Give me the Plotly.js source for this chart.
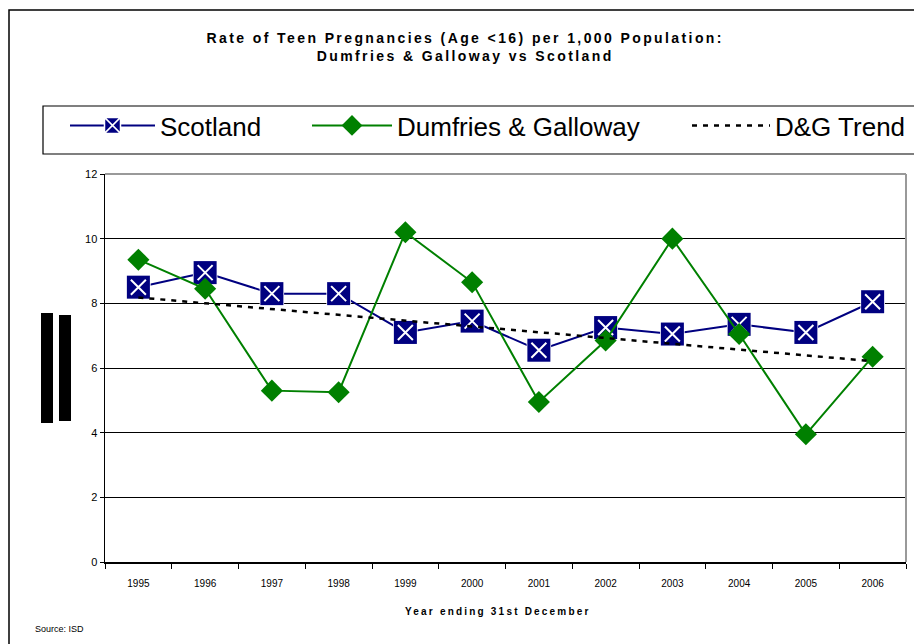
<!DOCTYPE html>
<html>
<head>
<meta charset="utf-8">
<script src="https://cdn.plot.ly/plotly-3.0.1.min.js"></script>
<style>
  html, body { margin: 0; padding: 0; background: #fff; }
  #chart { width: 914px; height: 644px; }
</style>
</head>
<body>
<div id="chart"></div>
<script>
// Teen pregnancy rates (age <16) per 1,000 population
const years = ['1995', '1996', '1997', '1998', '1999', '2000',
               '2001', '2002', '2003', '2004', '2005', '2006'];
const scotland = [8.5, 8.95, 8.3, 8.3, 7.1, 7.45, 6.55, 7.25, 7.05, 7.35, 7.1, 8.05];
const dumfriesGalloway = [9.35, 8.45, 5.3, 5.25, 10.2, 8.65, 4.95, 6.85, 10.0, 7.05, 3.95, 6.35];
const yTicks = [0, 2, 4, 6, 8, 10, 12];

// Least-squares linear trend through the D&G series
function linearTrend(values) {
  const n = values.length;
  const xm = (n - 1) / 2;
  const ym = values.reduce((a, b) => a + b, 0) / n;
  let sxy = 0, sxx = 0;
  values.forEach((v, i) => { sxy += (i - xm) * (v - ym); sxx += (i - xm) * (i - xm); });
  const slope = sxy / sxx;
  return values.map((_, i) => ym + slope * (i - xm));
}
const dgTrend = linearTrend(dumfriesGalloway);

const FONT = 'Liberation Sans, Arial, sans-serif';
const NAVY = '#000080';
const GREEN = '#008000';

const traces = [
  { // line for Scotland, also the legend entry
    x: years, y: scotland, name: 'Scotland', type: 'scatter', mode: 'lines+markers',
    legend: 'legend',
    line: { color: NAVY, width: 2 },
    marker: { symbol: 'square-x', size: 23, color: NAVY, line: { color: '#fff', width: 1.5 } }
  },
  { // solid navy squares
    x: years, y: scotland, type: 'scatter', mode: 'markers', showlegend: false, hoverinfo: 'skip',
    marker: { symbol: 'square', size: 23, color: NAVY, line: { width: 0 } }
  },
  { // white crosses inside the squares
    x: years, y: scotland, type: 'scatter', mode: 'markers', showlegend: false, hoverinfo: 'skip',
    marker: { symbol: 'x-thin-open', size: 15, color: '#fff', line: { color: '#fff', width: 2 } }
  },
  {
    x: years, y: dumfriesGalloway, name: 'Dumfries &amp; Galloway', type: 'scatter', mode: 'lines+markers',
    legend: 'legend2',
    line: { color: GREEN, width: 2 },
    marker: { symbol: 'diamond', size: 17, color: GREEN, line: { width: 0 } }
  },
  {
    x: years, y: dgTrend, name: 'D&amp;G Trend', type: 'scatter', mode: 'lines',
    legend: 'legend3',
    line: { color: '#000', width: 2.5, dash: '5px,6px' }
  }
];

// paper coordinate helpers (plot area spans 105..906 px horizontally, 174..562 px vertically)
const px = v => (v - 105) / 801;
const py = v => (562 - v) / 388;

function legendAt(left, symbolWidth) {
  return {
    orientation: 'h', xref: 'paper', yref: 'paper',
    x: px(left), y: py(102), xanchor: 'left', yanchor: 'top',
    font: { family: FONT, size: 26, color: '#000' },
    bgcolor: 'rgba(0,0,0,0)', borderwidth: 0,
    itemwidth: symbolWidth
  };
}

const layout = {
  width: 914, height: 644,
  margin: { l: 105, r: 8, t: 174, b: 82, autoexpand: false },
  paper_bgcolor: '#fff', plot_bgcolor: '#fff',
  font: { family: FONT, color: '#000' },
  title: {
    text: '<b><span style="letter-spacing:2.4px">Rate of Teen Pregnancies (Age &lt;16) per 1,000 Population:</span></b><br>' +
          '<b><span style="letter-spacing:2.4px">Dumfries &amp; Galloway vs Scotland</span></b>',
    font: { family: FONT, size: 14, color: '#000' },
    xref: 'container', x: 0.509, xanchor: 'center',
    yref: 'container', y: 1 - 43 / 644, yanchor: 'top'
  },
  xaxis: {
    type: 'category', categoryorder: 'array', categoryarray: years,
    range: [-0.5, 11.5],
    showline: true, linecolor: '#000', linewidth: 1.5,
    showgrid: false, zeroline: false,
    ticks: 'outside', tickson: 'boundaries', ticklen: 5, tickcolor: '#000', tickwidth: 1,
    ticklabelstandoff: 11,
    tickfont: { family: FONT, size: 10, color: '#000' },
    fixedrange: true
  },
  yaxis: {
    range: [0, 12], tickvals: yTicks, ticktext: yTicks.map(String),
    showline: true, linecolor: '#000', linewidth: 1.5,
    showgrid: true, gridcolor: '#000', gridwidth: 1,
    zeroline: false,
    ticks: 'outside', ticklen: 4, tickcolor: '#000', tickwidth: 1,
    tickfont: { family: FONT, size: 11, color: '#000' },
    fixedrange: true
  },
  showlegend: true,
  legend: legendAt(65, 85),
  legend2: legendAt(307, 80),
  legend3: legendAt(687, 78),
  shapes: [
    // outer chart border
    { type: 'rect', xref: 'paper', yref: 'paper', x0: px(9), x1: px(930), y0: py(660), y1: py(10),
      line: { color: '#000', width: 1.5 }, fillcolor: 'rgba(0,0,0,0)', layer: 'below' },
    // legend frame
    { type: 'rect', xref: 'paper', yref: 'paper', x0: px(43), x1: px(930), y0: py(154), y1: py(106),
      line: { color: '#000', width: 1.2 }, fillcolor: 'rgba(0,0,0,0)', layer: 'below' },
    // grey plot frame on top and right
    { type: 'line', xref: 'paper', yref: 'paper', x0: 0, x1: 1, y0: 1, y1: 1,
      line: { color: '#999', width: 2 }, layer: 'above' },
    { type: 'line', xref: 'paper', yref: 'paper', x0: 1, x1: 1, y0: 0, y1: 1,
      line: { color: '#999', width: 2 }, layer: 'above' },
    // solid black blocks left of the value axis
    { type: 'rect', xref: 'paper', yref: 'paper', x0: px(41), x1: px(53), y0: py(423), y1: py(313),
      line: { width: 0 }, fillcolor: '#000' },
    { type: 'rect', xref: 'paper', yref: 'paper', x0: px(59), x1: px(71), y0: py(421), y1: py(315),
      line: { width: 0 }, fillcolor: '#000' }
  ],
  annotations: [
    { text: '<b><span style="letter-spacing:2.2px">Year ending 31st December</span></b>',
      xref: 'paper', yref: 'paper', x: px(498), y: py(611), xanchor: 'center', yanchor: 'middle',
      showarrow: false, font: { family: FONT, size: 10, color: '#000' } },
    { text: 'Source: ISD',
      xref: 'paper', yref: 'paper', x: px(33), y: py(629), xanchor: 'left', yanchor: 'middle',
      showarrow: false, font: { family: FONT, size: 9, color: '#000' } }
  ]
};

Plotly.newPlot('chart', traces, layout, { displayModeBar: false, staticPlot: true });
</script>
</body>
</html>
